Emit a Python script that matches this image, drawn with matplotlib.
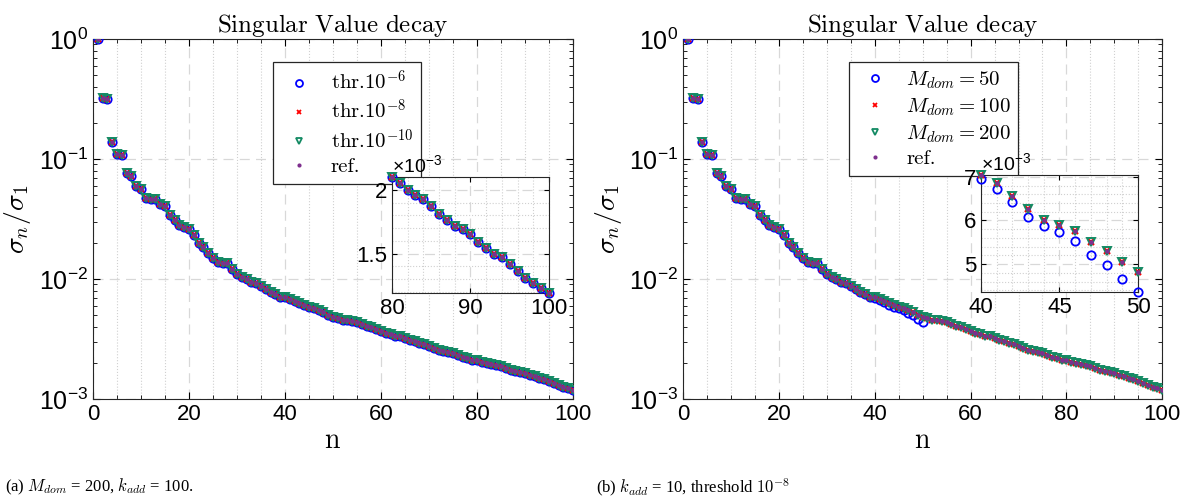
import numpy as np
import matplotlib.pyplot as plt
from matplotlib.ticker import MultipleLocator, FuncFormatter, LogLocator, NullFormatter

plt.rcParams['font.family'] = ['Liberation Sans', 'DejaVu Sans']
plt.rcParams['mathtext.fontset'] = 'custom'
plt.rcParams['mathtext.rm'] = 'Liberation Sans'
plt.rcParams['mathtext.it'] = 'Liberation Sans:italic'
plt.rcParams['mathtext.bf'] = 'Liberation Sans:bold'

# --- data ---
n = np.arange(1, 101)
ref = [1.0, 0.324, 0.316, 0.138, 0.111, 0.108, 0.0769, 0.0720, 0.0595, 0.0567,
       0.0476, 0.0464, 0.0460, 0.0422, 0.0405, 0.0340, 0.0310, 0.0282, 0.0273, 0.0263,
       0.0233, 0.0201, 0.0186, 0.0164, 0.0149, 0.0139, 0.0137, 0.0135, 0.0121, 0.0109,
       0.0104, 0.0100, 0.0095, 0.0092, 0.0088, 0.0083, 0.0078, 0.0075, 0.00713, 0.00704,
       0.00686, 0.00655, 0.00626, 0.00602, 0.00589, 0.00575, 0.00551, 0.00529, 0.00504, 0.00483,
       0.00470, 0.00458, 0.00452, 0.00447, 0.00440, 0.00421, 0.00408, 0.00396, 0.00384, 0.00368,
       0.00356, 0.00345, 0.00338, 0.00332, 0.00325, 0.00313, 0.00303, 0.00294, 0.00285, 0.00276,
       0.00266, 0.00257, 0.00251, 0.00248, 0.00244, 0.00234, 0.00226, 0.00219, 0.00213, 0.00210,
       0.00205, 0.001995, 0.00196, 0.00193, 0.00187, 0.00181, 0.00176, 0.00172, 0.00169, 0.00165,
       0.00159, 0.00154, 0.00150, 0.00147, 0.00142, 0.00136, 0.00131, 0.00127, 0.00123, 0.00119]
ref = np.array(ref)

# panel (a): all thresholds coincide with the reference
thr6 = ref.copy()
thr8 = ref.copy()
thr10 = ref.copy()

# panel (b): M_dom = 50 only has 50 values, drifting below from n=40
m50_tail = [0.00696, 0.00673, 0.00642, 0.00608, 0.00588, 0.00574, 0.00553, 0.00522, 0.00499, 0.00466, 0.00436]
m50 = np.concatenate([ref[:39], m50_tail])
m100 = ref.copy()
m200 = ref.copy()

blue = '#0000ff'
red = '#ff0000'
green = '#138a63'
purple = '#7e2f8e'
TICK = 16
CM = 'cm'


def markers(ax, s1, s2, s3, sref, ms=6, clip=True):
    ax.plot(*s1, 'o', mfc='none', mec=blue, mew=1.3, ms=ms, zorder=3, clip_on=clip)
    ax.plot(*s2, 'x', color=red, mew=1.6, ms=ms - 1.5, zorder=3, clip_on=clip)
    ax.plot(*s3, 'v', mfc='none', mec=green, mew=1.4, ms=ms, zorder=4, clip_on=clip)
    ax.plot(*sref, 'o', color=purple, mec='none', ms=ms * 0.55, zorder=5, clip_on=clip)


def legend(ax, labels, x0):
    h = [plt.Line2D([], [], ls='none', marker='o', mfc='none', mec=blue, mew=1.3, ms=5),
         plt.Line2D([], [], ls='none', marker='x', color=red, mew=1.3, ms=3.5),
         plt.Line2D([], [], ls='none', marker='v', mfc='none', mec=green, mew=1.3, ms=5),
         plt.Line2D([], [], ls='none', marker='o', color=purple, mec='none', ms=3)]
    leg = ax.legend(h, labels + ['ref.'], loc='upper left', bbox_to_anchor=(x0, 0.964),
                    prop={'family': 'cmr10', 'size': 15}, frameon=True, fancybox=False,
                    edgecolor='#262626', framealpha=1, handletextpad=0.6, borderpad=0.35,
                    labelspacing=0.25, handlelength=1.8)
    leg.get_frame().set_linewidth(0.9)
    for t in leg.get_texts():
        t.set_math_fontfamily(CM)


def style_main(ax):
    ax.set_yscale('log')
    ax.set_xlim(0, 100)
    ax.set_ylim(1e-3, 1)
    ax.xaxis.set_major_locator(MultipleLocator(20))
    ax.xaxis.set_minor_locator(MultipleLocator(5))
    ax.yaxis.set_major_formatter(FuncFormatter(lambda v, p: r'$10^{%d}$' % round(np.log10(v))))
    ax.yaxis.set_minor_locator(LogLocator(subs=np.arange(2, 10)))
    ax.yaxis.set_minor_formatter(NullFormatter())
    ax.tick_params(which='both', direction='in', top=True, right=True, labelsize=TICK)
    ax.tick_params(axis='y', labelsize=TICK + 2)
    ax.tick_params(which='major', length=5)
    ax.tick_params(which='minor', length=3)
    ax.grid(True, which='major', ls=(0, (8, 5)), color='#d8d8d8', lw=0.9)
    ax.grid(True, which='minor', axis='x', ls=':', color='#d0d0d0', lw=0.8)
    ax.set_title(r'$\mathrm{Singular\ Value\ decay}$', fontsize=18, pad=5, math_fontfamily=CM)
    ax.set_xlabel(r'$\mathrm{n}$', fontsize=20, labelpad=2, math_fontfamily=CM)
    ax.set_ylabel(r'$\sigma_n/\sigma_1$', fontsize=20, math_fontfamily=CM)
    for s in ax.spines.values():
        s.set_color('#262626')


def style_inset(ax, xmaj, xmin, ymaj, ymin):
    ax.xaxis.set_major_locator(MultipleLocator(xmaj))
    ax.xaxis.set_minor_locator(MultipleLocator(xmin))
    ax.yaxis.set_major_locator(MultipleLocator(ymaj))
    ax.yaxis.set_minor_locator(MultipleLocator(ymin))
    ax.yaxis.set_major_formatter(FuncFormatter(lambda v, p: '%g' % round(v, 3)))
    ax.tick_params(which='both', direction='in', top=True, right=True, labelsize=TICK)
    ax.tick_params(which='minor', length=0)
    ax.grid(True, which='major', ls=(0, (8, 5)), color='#d8d8d8', lw=0.9)
    ax.grid(True, which='minor', ls=':', color='#d0d0d0', lw=0.8)
    ax.text(0.0, 1.01, r'$\times 10^{-3}$', transform=ax.transAxes, fontsize=14,
            ha='left', va='bottom')
    for s in ax.spines.values():
        s.set_color('#262626')


fig = plt.figure(figsize=(11.84, 5.01), dpi=100)

# ========== Panel (a) ==========
axA = fig.add_axes([0.0785, 0.2036, 0.4054, 0.7186])
markers(axA, (n, thr6), (n, thr8), (n, thr10), (n, ref))
style_main(axA)
legend(axA, [r'thr.$10^{-6}$', r'thr.$10^{-8}$', r'thr.$10^{-10}$'], 0.354)

insA = fig.add_axes([0.331, 0.415, 0.1326, 0.2315])
sel = n >= 80
markers(insA, (n[sel], thr6[sel] * 1e3), (n[sel], thr8[sel] * 1e3), (n[sel], thr10[sel] * 1e3),
        (n[sel], ref[sel] * 1e3), clip=False)
insA.set_xlim(80, 100)
insA.set_ylim(ref[sel].min() * 1e3, ref[sel].max() * 1e3)
style_inset(insA, 10, 2, 0.5, 0.1)

# ========== Panel (b) ==========
axB = fig.add_axes([0.577, 0.2036, 0.4046, 0.7186])
n50 = n[:50]
markers(axB, (n50, m50), (n, m100), (n, m200), (n, ref))
style_main(axB)
legend(axB, [r'$M_{dom}=50$', r'$M_{dom}=100$', r'$M_{dom}=200$'], 0.324)

insB = fig.add_axes([0.8285, 0.417, 0.1326, 0.2335])
sel = (n >= 40) & (n <= 50)
markers(insB, (n50[39:], m50[39:] * 1e3), (n[sel], m100[sel] * 1e3), (n[sel], m200[sel] * 1e3),
        (n[sel], ref[sel] * 1e3), clip=False)
insB.set_xlim(40, 50)
insB.set_ylim(min(m50_tail) * 1e3, ref[sel].max() * 1e3)
style_inset(insB, 5, 1, 1, 0.2)

# ========== Captions ==========
fig.text(0.004, 0.028, r'(a) $M_{dom}$ = 200, $k_{add}$ = 100.', fontsize=12,
         family='Liberation Serif', va='center', math_fontfamily=CM)
fig.text(0.503, 0.028, r'(b) $k_{add}$ = 10, threshold $10^{-8}$', fontsize=12,
         family='Liberation Serif', va='center', math_fontfamily=CM)

fig.savefig('out.png', dpi=100)
